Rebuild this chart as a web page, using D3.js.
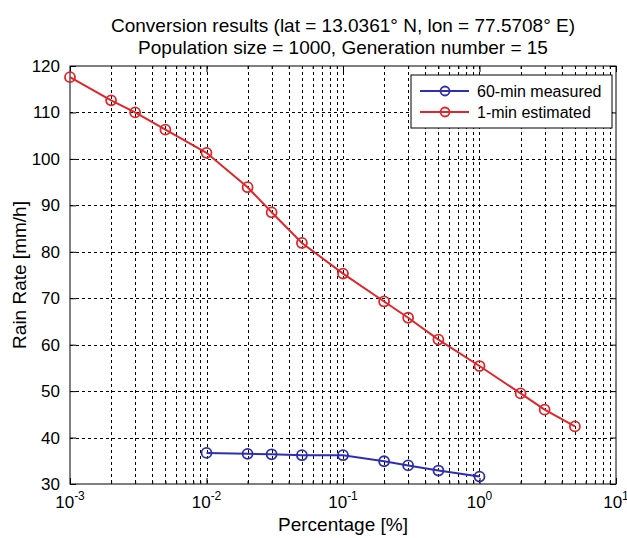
<!DOCTYPE html>
<html>

<head>
    <meta charset="utf-8">
    <title>Conversion results</title>
    <script src="https://d3js.org/d3.v7.min.js"></script>
    <style>
        body { margin: 0; background: #fff; }
        text { font-family: "Liberation Sans", Arial, sans-serif; fill: #000; }
    </style>
</head>

<body>
    <div id="chart"></div>
    <script>
        // data
        var percent = [0.001, 0.002, 0.003, 0.005, 0.01, 0.02, 0.03, 0.05, 0.1, 0.2, 0.3, 0.5, 1, 2, 3, 5];
        var rain1min = [117.6, 112.6, 110.0, 106.3, 101.3, 93.9, 88.5, 81.9, 75.3, 69.3, 65.8, 61.1, 55.4, 49.5, 46.0, 42.4];
        var percent60 = [0.01, 0.02, 0.03, 0.05, 0.1, 0.2, 0.3, 0.5, 1];
        var rain60min = [36.7, 36.5, 36.4, 36.2, 36.2, 34.9, 34.0, 32.9, 31.6];
        var xTickExp = [-3, -2, -1, 0, 1];
        var yTicks = [30, 40, 50, 60, 70, 80, 90, 100, 110, 120];
        var seriesNames = ["60-min measured", "1-min estimated"];
        var seriesColors = ["#2f2fb4", "#e0262a"];

        var W = 627, H = 538;
        var margin = { top: 66, right: 11, bottom: 54, left: 70 };
        var w = W - margin.left - margin.right;
        var h = H - margin.top - margin.bottom;

        var svg = d3.select("#chart").append("svg")
            .attr("width", W)
            .attr("height", H);

        var g = svg.append("g")
            .attr("transform", "translate(" + margin.left + "," + margin.top + ")");

        var x = d3.scaleLog().domain([1e-3, 10]).range([0, w]);
        var y = d3.scaleLinear().domain([30, 120]).range([h, 0]);

        // minor positions 1..9 in each decade
        var minor = [];
        for (var e = -3; e < 1; e++) {
            for (var k = 2; k <= 9; k++) minor.push(k * Math.pow(10, e));
        }
        var major = xTickExp.map(function (p) { return Math.pow(10, p); });

        // grid
        var grid = g.append("g").attr("stroke", "#000").attr("stroke-width", 1)
            .attr("stroke-dasharray", "3,3");
        grid.selectAll(".vx").data(minor.concat(major.slice(1, -1))).enter()
            .append("line")
            .attr("x1", function (d) { return Math.round(x(d)) + 0.5; })
            .attr("x2", function (d) { return Math.round(x(d)) + 0.5; })
            .attr("y1", 0).attr("y2", h);
        grid.selectAll(".hy").data(yTicks.slice(1, -1)).enter()
            .append("line")
            .attr("y1", function (d) { return Math.round(y(d)) + 0.5; })
            .attr("y2", function (d) { return Math.round(y(d)) + 0.5; })
            .attr("x1", 0).attr("x2", w);

        // axes with inward ticks on all four sides
        var xb = d3.axisBottom(x).tickValues(major).tickSizeInner(-6).tickSizeOuter(0).tickFormat("");
        var xt = d3.axisTop(x).tickValues(major).tickSizeInner(-6).tickSizeOuter(0).tickFormat("");
        var xbm = d3.axisBottom(x).tickValues(minor).tickSizeInner(-3).tickSizeOuter(0).tickFormat("");
        var xtm = d3.axisTop(x).tickValues(minor).tickSizeInner(-3).tickSizeOuter(0).tickFormat("");
        var yl = d3.axisLeft(y).tickValues(yTicks).tickSizeInner(-6).tickSizeOuter(0).tickPadding(10);
        var yr = d3.axisRight(y).tickValues(yTicks).tickSizeInner(-6).tickSizeOuter(0).tickFormat("");

        g.append("g").attr("transform", "translate(0," + h + ")").call(xb);
        g.append("g").attr("transform", "translate(0," + h + ")").call(xbm);
        g.append("g").call(xt);
        g.append("g").call(xtm);
        var yAxis = g.append("g").call(yl);
        g.append("g").attr("transform", "translate(" + w + ",0)").call(yr);
        g.selectAll(".domain").remove();
        g.selectAll(".tick line").attr("stroke", "#000");
        yAxis.selectAll("text").attr("font-size", 17).attr("fill", "#000")
            .attr("font-family", "Liberation Sans, Arial, sans-serif");

        g.append("rect").attr("width", w).attr("height", h)
            .attr("fill", "none").attr("stroke", "#000").attr("stroke-width", 1);

        // x tick labels as 10^n
        var xl = g.append("g").selectAll("text").data(xTickExp).enter()
            .append("text")
            .attr("x", function (d) { return x(Math.pow(10, d)); })
            .attr("y", h + 24)
            .attr("font-size", 17)
            .attr("text-anchor", "middle");
        xl.append("tspan").text("10");
        xl.append("tspan").attr("dy", -8).attr("font-size", 12)
            .text(function (d) { return d; });

        // series
        var line = d3.line()
            .x(function (d) { return x(d[0]); })
            .y(function (d) { return y(d[1]); });

        var series = [
            d3.zip(percent60, rain60min),
            d3.zip(percent, rain1min)
        ];

        series.forEach(function (s, i) {
            g.append("path").datum(s)
                .attr("d", line)
                .attr("fill", "none")
                .attr("stroke", seriesColors[i])
                .attr("stroke-width", 2);
            g.selectAll(".m" + i).data(s).enter()
                .append("circle")
                .attr("cx", function (d) { return x(d[0]); })
                .attr("cy", function (d) { return y(d[1]); })
                .attr("r", 5)
                .attr("fill", "none")
                .attr("stroke", seriesColors[i])
                .attr("stroke-width", 1.8);
        });

        // legend
        var lg = svg.append("g").attr("transform", "translate(411,75)");
        lg.append("rect").attr("width", 201).attr("height", 53)
            .attr("fill", "#fff").attr("stroke", "#000").attr("stroke-width", 1);
        seriesNames.forEach(function (name, i) {
            var yy = 16 + i * 21;
            lg.append("line").attr("x1", 9).attr("x2", 58).attr("y1", yy).attr("y2", yy)
                .attr("stroke", seriesColors[i]).attr("stroke-width", 2);
            lg.append("circle").attr("cx", 34).attr("cy", yy).attr("r", 4.5)
                .attr("fill", "none").attr("stroke", seriesColors[i]).attr("stroke-width", 1.8);
            lg.append("text").attr("x", 66).attr("y", yy + 6)
                .attr("font-size", 16).text(name);
        });

        // titles
        var cx = margin.left + w / 2;
        svg.append("text").attr("x", cx).attr("y", 32).attr("text-anchor", "middle")
            .attr("font-size", 19).text("Conversion results (lat = 13.0361° N, lon = 77.5708° E)");
        svg.append("text").attr("x", cx).attr("y", 54).attr("text-anchor", "middle")
            .attr("font-size", 19).text("Population size = 1000, Generation number = 15");
        svg.append("text").attr("x", cx).attr("y", 531).attr("text-anchor", "middle")
            .attr("font-size", 19).text("Percentage [%]");
        svg.append("text")
            .attr("transform", "translate(26," + (margin.top + h / 2) + ") rotate(-90)")
            .attr("text-anchor", "middle")
            .attr("font-size", 19).text("Rain Rate [mm/h]");
    </script>
</body>

</html>
